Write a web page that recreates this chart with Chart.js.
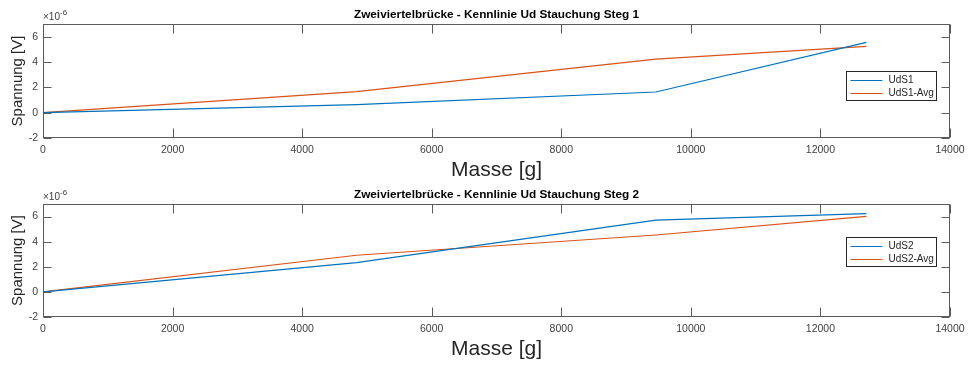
<!DOCTYPE html>
<html>
<head>
<meta charset="utf-8">
<script src="https://cdn.jsdelivr.net/npm/chart.js@4.4.0/dist/chart.umd.min.js"></script>
<style>
  html, body { margin: 0; padding: 0; background: #fff; }
  #wrap { position: relative; width: 971px; height: 367px; overflow: hidden; }
  canvas { position: absolute; left: 0; }
</style>
</head>
<body>
<div id="wrap">
  <canvas id="steg1" width="971" height="183" style="top:0;width:971px;height:183px;"></canvas>
  <canvas id="steg2" width="971" height="187" style="top:180px;width:971px;height:187px;"></canvas>
</div>
<script>
'use strict';

// ── data (masses in g, voltages in V) ──
const masse    = [0, 4840, 9460, 12710];
const udS1     = [0, 0.63e-6, 1.63e-6, 5.55e-6];
const udS1Avg  = [0, 1.66e-6, 4.22e-6, 5.23e-6];
const udS2     = [0, 2.33e-6, 5.72e-6, 6.23e-6];
const udS2Avg  = [0, 2.92e-6, 4.53e-6, 6.02e-6];

const massTicks     = [0, 2000, 4000, 6000, 8000, 10000, 12000, 14000];
const spannungTicks = [-2e-6, 0, 2e-6, 4e-6, 6e-6];

const FONT = '"Liberation Sans", Arial, Helvetica, sans-serif';
const AXCOL = '#262626';
const BLUE = '#0072BD', ORANGE = '#D95319';

// MATLAB-ish box: frame, inward ticks on all four sides, title, exponent, legend
const matlabAxes = {
  id: 'matlabAxes',
  afterDraw(chart, args, opts) {
    const { ctx, chartArea: ca, scales } = chart;
    const L = Math.round(ca.left) + 0.5, R = Math.round(ca.right) - 0.5;
    const T = Math.round(ca.top) + 0.5, B = Math.round(ca.bottom) - 0.5;
    ctx.save();
    ctx.strokeStyle = '#5a5a5a';
    ctx.lineWidth = 1;
    ctx.strokeRect(L, T, R - L, B - T);

    ctx.beginPath();
    scales.x.ticks.forEach(t => {
      const px = Math.round(scales.x.getPixelForValue(t.value)) + 0.5;
      ctx.moveTo(px, B); ctx.lineTo(px, B - 9);
      ctx.moveTo(px, T); ctx.lineTo(px, T + 9);
    });
    scales.y.ticks.forEach(t => {
      const py = Math.round(scales.y.getPixelForValue(t.value)) + 0.5;
      ctx.moveTo(L, py); ctx.lineTo(L + 8, py);
      ctx.moveTo(R, py); ctx.lineTo(R - 8, py);
    });
    ctx.stroke();

    // title
    ctx.fillStyle = '#000';
    ctx.font = 'bold 11.8px ' + FONT;
    ctx.textAlign = 'center';
    ctx.textBaseline = 'middle';
    ctx.fillText(opts.title, (ca.left + ca.right) / 2, ca.top - 9);

    // exponent marker ×10^-6
    ctx.fillStyle = '#404040';
    ctx.textAlign = 'left';
    ctx.textBaseline = 'alphabetic';
    ctx.font = '10px ' + FONT;
    const base = '\u00d710';
    ctx.fillText(base, ca.left, ca.top - 4);
    const w = ctx.measureText(base).width;
    ctx.font = '8px ' + FONT;
    ctx.fillText('-6', ca.left + w, ca.top - 9);

    // legend
    const bw = 90, bh = 29;
    const bx = Math.round(ca.right - 14 - bw) + 0.5, by = Math.round(ca.top + opts.legendTop) + 0.5;
    ctx.fillStyle = '#fff';
    ctx.fillRect(bx, by, bw, bh);
    ctx.strokeStyle = AXCOL;
    ctx.strokeRect(bx, by, bw, bh);
    ctx.font = '10px ' + FONT;
    ctx.textBaseline = 'middle';
    chart.data.datasets.forEach((ds, i) => {
      const y = Math.round(by + 8 + i * 13.5) + 0.5;
      ctx.strokeStyle = ds.borderColor;
      ctx.lineWidth = 1.2;
      ctx.beginPath(); ctx.moveTo(bx + 4, y); ctx.lineTo(bx + 36, y); ctx.stroke();
      ctx.fillStyle = AXCOL;
      ctx.fillText(ds.label, bx + 42, y);
    });
    ctx.restore();
  }
};

function toPoints(xs, ys) { return xs.map((x, i) => ({ x: x, y: ys[i] })); }

function makeChart(id, title, labels, series, legendTop, padBottom) {
  return new Chart(document.getElementById(id), {
    type: 'scatter',
    data: {
      datasets: [
        { label: labels[0], data: toPoints(masse, series[0]), borderColor: BLUE, backgroundColor: BLUE },
        { label: labels[1], data: toPoints(masse, series[1]), borderColor: ORANGE, backgroundColor: ORANGE }
      ].map(d => Object.assign(d, { showLine: true, borderWidth: 1.2, pointRadius: 0, tension: 0, fill: false }))
    },
    options: {
      responsive: false,
      animation: false,
      layout: { padding: { top: 24, right: 21, left: 0, bottom: padBottom } },
      plugins: {
        legend: { display: false },
        tooltip: { enabled: false },
        matlabAxes: { title: title, legendTop: legendTop }
      },
      scales: {
        x: {
          type: 'linear', min: 0, max: 14000,
          afterBuildTicks: s => { s.ticks = massTicks.map(v => ({ value: v })); },
          afterFit: s => { s.height = 45; },
          grid: { display: false, drawTicks: false },
          border: { display: false },
          ticks: { padding: 6, maxRotation: 0, autoSkip: false, color: '#404040',
                   font: { size: 10.5, family: FONT }, callback: v => String(v) },
          title: { display: true, text: 'Masse [g]', color: AXCOL,
                   font: { size: 21, family: FONT }, padding: { top: 0, bottom: 0 } }
        },
        y: {
          type: 'linear', min: -2e-6, max: 7e-6,
          afterBuildTicks: s => { s.ticks = spannungTicks.map(v => ({ value: v })); },
          afterFit: s => { s.width = 43; },
          grid: { display: false, drawTicks: false },
          border: { display: false },
          ticks: { padding: 5, color: '#404040', font: { size: 10.5, family: FONT },
                   callback: v => String(Math.round(v * 1e6)) },
          title: { display: true, text: 'Spannung [V]', color: AXCOL,
                   font: { size: 15, family: FONT }, padding: { top: 9, bottom: 0 } }
        }
      }
    },
    plugins: [matlabAxes]
  });
}

makeChart('steg1', 'Zweiviertelbrücke - Kennlinie Ud Stauchung Steg 1',
  ['UdS1', 'UdS1-Avg'], [udS1, udS1Avg], 47, 0);
makeChart('steg2', 'Zweiviertelbrücke - Kennlinie Ud Stauchung Steg 2',
  ['UdS2', 'UdS2-Avg'], [udS2, udS2Avg], 32.7, 5);
</script>
</body>
</html>
